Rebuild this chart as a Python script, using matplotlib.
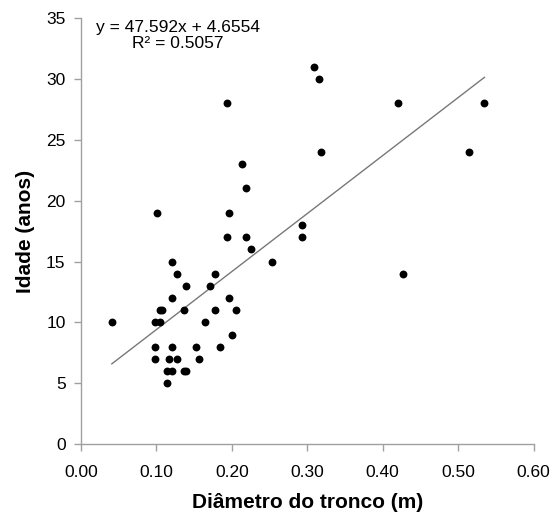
import numpy as np
import matplotlib.pyplot as plt

plt.rcParams['font.family'] = ['Liberation Sans', 'DejaVu Sans']

# diâmetro do tronco (m) e idade (anos)
diametro = [0.219, 0.101, 0.197, 0.194, 0.219, 0.226, 0.254, 0.121, 0.127, 0.178,
            0.140, 0.171, 0.121, 0.197, 0.105, 0.108, 0.137, 0.178, 0.206, 0.041,
            0.098, 0.105, 0.165, 0.200, 0.098, 0.121, 0.153, 0.185, 0.098, 0.117,
            0.127, 0.156, 0.114, 0.121, 0.137, 0.140, 0.114,
            0.309, 0.315, 0.420, 0.535, 0.318, 0.515, 0.293, 0.293, 0.427,
            0.194, 0.213]
idade = [21, 19, 19, 17, 17, 16, 15, 15, 14, 14,
         13, 13, 12, 12, 11, 11, 11, 11, 11, 10,
         10, 10, 10, 9, 8, 8, 8, 8, 7, 7,
         7, 7, 6, 6, 6, 6, 5,
         31, 30, 28, 28, 24, 24, 18, 17, 14,
         28, 23]

# reta de regressão
a_coef = 47.592
b_coef = 4.6554
r2 = 0.5057

xticks = [0.0, 0.1, 0.2, 0.3, 0.4, 0.5, 0.6]
yticks = [0, 5, 10, 15, 20, 25, 30, 35]

fig = plt.figure(figsize=(5.54, 5.24), dpi=100)
ax = fig.add_axes([0.146, 0.152, 0.817, 0.814])

ax.scatter(diametro, idade, s=32, color='black', zorder=3, linewidths=0)

xl = np.array([min(diametro), max(diametro)])
ax.plot(xl, a_coef * xl + b_coef, color='#787878', linewidth=1.0, zorder=2)

ax.set_xlim(0, 0.6)
ax.set_ylim(0, 35)
ax.set_xticks(xticks)
ax.set_yticks(yticks)
ax.set_xticklabels(['%.2f' % t for t in xticks])

for s in ['top', 'right']:
    ax.spines[s].set_visible(False)
for s in ['left', 'bottom']:
    ax.spines[s].set_color('#a0a0a0')
    ax.spines[s].set_linewidth(1.0)
ax.tick_params(colors='#a0a0a0', labelcolor='black', labelsize=12.5, length=5, width=1.0)
ax.tick_params(axis='x', pad=10)
ax.tick_params(axis='y', pad=6)

ax.set_xlabel('Diâmetro do tronco (m)', fontsize=15, fontweight='bold', labelpad=9)
ax.set_ylabel('Idade (anos)', fontsize=15, fontweight='bold', labelpad=8)

ax.text(0.129, 34.85, 'y = 47.592x + 4.6554\nR² = 0.5057', ha='center', va='top',
        fontsize=12.5, linespacing=1.15)

fig.savefig('out.png', dpi=100)
